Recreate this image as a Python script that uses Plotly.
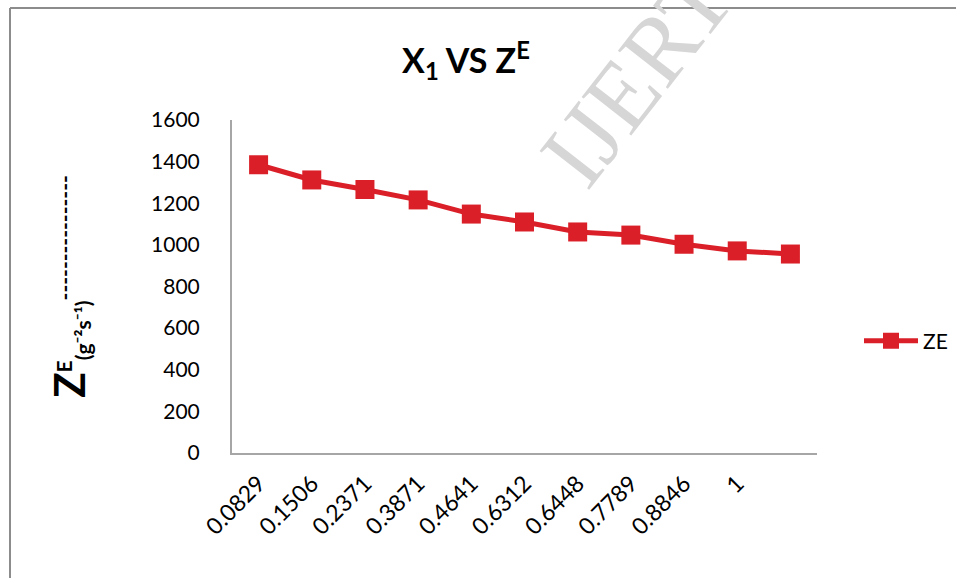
import plotly.graph_objects as go

x_labels = ["0.0829", "0.1506", "0.2371", "0.3871", "0.4641", "0.6312",
            "0.6448", "0.7789", "0.8846", "1"]
ze_values = [1385, 1312, 1266, 1216, 1148, 1110, 1062, 1047, 1003, 971, 956]
y_ticks = [0, 200, 400, 600, 800, 1000, 1200, 1400, 1600]

RED = "#DA1F28"
GRAY = "#A6A6A6"
FONT = "Lato"

x_pos = list(range(len(ze_values)))

fig = go.Figure()
fig.add_trace(go.Scatter(
    x=x_pos, y=ze_values, name="ZE", mode="lines+markers",
    line=dict(color=RED, width=5),
    marker=dict(symbol="square", size=19, color=RED),
))

W, H = 956, 578
L, R, T, B = 232, 139, 120, 125
pw, ph = W - L - R, H - T - B

def px(xp):
    return (xp - L) / pw

def py(yp):
    return (H - B - yp) / ph

fig.update_layout(
    width=W, height=H,
    margin=dict(l=L, r=R, t=T, b=B, autoexpand=False),
    paper_bgcolor="white", plot_bgcolor="white",
    font=dict(family=FONT, color="black"),
    title=dict(text="<b>X<sub>1</sub> VS Z<sup>E</sup></b>",
               font=dict(family=FONT, size=34, color="black"),
               x=466 / W, xanchor="center", xref="container",
               y=1 - 61 / H, yanchor="middle", yref="container"),
    xaxis=dict(
        range=[-0.5, len(ze_values) - 0.5],
        tickmode="array", tickvals=list(range(len(x_labels))), ticktext=x_labels,
        tickangle=-45, tickfont=dict(family=FONT, size=23),
        showgrid=False, zeroline=False, showline=True,
        linecolor=GRAY, linewidth=2, ticks="", ticklabelstandoff=6,
    ),
    yaxis=dict(
        range=[0, 1600], tickmode="array", tickvals=y_ticks,
        tickfont=dict(family=FONT, size=21),
        showgrid=False, zeroline=False, showline=True,
        linecolor=GRAY, linewidth=2, ticks="", ticklabelstandoff=26,
        title=dict(
            text=("<b><span style='font-size:42px'>Z</span><sup>E</sup>"
                  "<sub>(g⁻²s⁻¹)</sub><sup>----------------</sup></b>"),
            font=dict(family=FONT, size=30), standoff=57),
    ),
    legend=dict(x=px(859), y=py(341), xanchor="left", yanchor="middle",
                itemwidth=54,
                font=dict(family=FONT, size=21), bgcolor="rgba(0,0,0,0)"),
    showlegend=True,
)

# watermark
fig.add_annotation(text="IJERT", xref="paper", yref="paper",
                   x=px(636), y=py(76), xanchor="center", yanchor="middle",
                   showarrow=False, textangle=-52,
                   font=dict(family="Liberation Serif", size=96, color="#D6D6D6"))

# outer chart frame
fig.add_shape(type="line", xref="paper", yref="paper",
              x0=px(10), x1=px(10), y0=py(8), y1=py(600),
              line=dict(color="#8C8C8C", width=2), layer="below")
fig.add_shape(type="line", xref="paper", yref="paper",
              x0=px(10), x1=px(1000), y0=py(8), y1=py(8),
              line=dict(color="#8C8C8C", width=2), layer="below")

fig.write_html("out.html")
